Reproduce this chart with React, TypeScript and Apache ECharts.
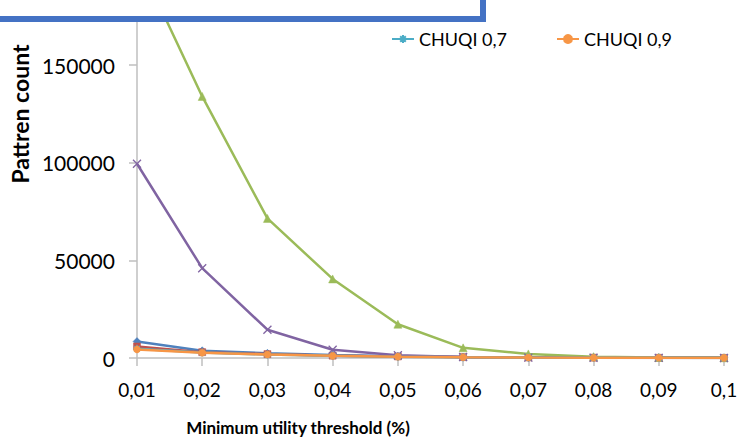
import React, { useEffect, useRef } from "react";
import * as echarts from "echarts";

const categories = ["0,01", "0,02", "0,03", "0,04", "0,05", "0,06", "0,07", "0,08", "0,09", "0,1"];
const seriesNames = ["HUSP", "CHUQI 0,1", "CHUQI 0,3", "CHUQI 0,5", "CHUQI 0,7", "CHUQI 0,9"];
const blueValues = [8400, 3700, 2400, 1500, 900, 500, 300, 200, 120, 80];
const redValues = [5900, 3000, 2000, 1200, 800, 450, 280, 180, 110, 70];
const greenValues = [205000, 134000, 71500, 40500, 17300, 5200, 2100, 700, 250, 100];
const purpleValues = [99500, 46000, 14500, 4200, 1400, 500, 200, 100, 60, 40];
const cyanValues = [4700, 2800, 1800, 1100, 700, 400, 250, 150, 100, 60];
const orangeValues = [4400, 2700, 1800, 1100, 700, 400, 250, 150, 100, 60];
const yTicks = { min: 0, max: 250000, interval: 50000, lastShown: 150000 };
const xTitle = "Minimum utility threshold (%)";
const yTitle = "Pattren count";

const colors = ["#4F81BD", "#C0504D", "#9BBB59", "#8064A2", "#4BACC6", "#F79646"];
const symbols = [
  "diamond",
  "rect",
  "triangle",
  "path://M0 0 L10 10 M10 0 L0 10",
  "path://M5 0 L5 10 M0 5 L10 5 M1.5 1.5 L8.5 8.5 M8.5 1.5 L1.5 8.5",
  "circle",
];
const symbolSizes = [8, 7, 8, 8, 8, 7];
const values = [blueValues, redValues, greenValues, purpleValues, cyanValues, orangeValues];

const FONT = "Lato, 'Open Sans', sans-serif";
// the chart is taller than the page and shifted up, so its upper part is out of view
const SHIFT = 130;

export default function App() {
  const ref = useRef<HTMLDivElement>(null);
  useEffect(() => {
    document.body.style.margin = "0";
    if (!ref.current) return;
    const chart = echarts.init(ref.current, undefined, { renderer: "svg" });
    chart.setOption({
      animation: false,
      backgroundColor: "#ffffff",
      textStyle: { fontFamily: FONT },
      grid: { left: 136, right: 26, top: 0, bottom: 88, containLabel: false },
      legend: [
        {
          data: ["CHUQI 0,7"],
          left: 386,
          top: SHIFT + 25,
          itemWidth: 22,
          itemHeight: 10,
          textStyle: { fontSize: 18, color: "#000", fontFamily: FONT },
        },
        {
          data: ["CHUQI 0,9"],
          left: 551,
          top: SHIFT + 25,
          itemWidth: 22,
          itemHeight: 10,
          textStyle: { fontSize: 18, color: "#000", fontFamily: FONT },
        },
      ],
      xAxis: {
        type: "category",
        data: categories,
        boundaryGap: false,
        axisLine: { lineStyle: { color: "#BFBFBF", width: 1.5 } },
        axisTick: { alignWithLabel: true, length: 8, lineStyle: { color: "#BFBFBF", width: 1.5 } },
        axisLabel: { fontSize: 19, color: "#000", margin: 22, fontFamily: FONT },
        splitLine: { show: false },
      },
      yAxis: {
        type: "value",
        min: yTicks.min,
        max: yTicks.max,
        interval: yTicks.interval,
        name: yTitle,
        nameLocation: "middle",
        nameGap: 104,
        nameTextStyle: { fontSize: 23, fontWeight: "bold", color: "#000", fontFamily: FONT },
        axisLine: { show: true, lineStyle: { color: "#BFBFBF", width: 1.5 } },
        axisTick: { show: true, length: 8, lineStyle: { color: "#BFBFBF", width: 1.5 } },
        axisLabel: {
          fontSize: 21,
          color: "#000",
          margin: 22,
          fontFamily: FONT,
          formatter: (v: number) => (v <= yTicks.lastShown ? String(v) : ""),
        },
        splitLine: { show: false },
      },
      series: values.map((v, i) => ({
        name: seriesNames[i],
        type: "line",
        data: v,
        symbol: symbols[i],
        symbolSize: symbolSizes[i],
        showAllSymbol: true,
        lineStyle: { color: colors[i], width: 2.5 },
        itemStyle: { color: colors[i], borderColor: colors[i], borderWidth: i === 3 || i === 4 ? 1.3 : 0.5 },
        z: 2 + i,
      })),
      graphic: [
        {
          type: "rect",
          z: 100,
          shape: { x: -10, y: SHIFT - 10, width: 493, height: 29 },
          style: { fill: "#ffffff", stroke: "#4472C4", lineWidth: 6 },
        },
        {
          type: "text",
          z: 100,
          x: 298,
          y: SHIFT + 427,
          style: {
            text: xTitle,
            fontSize: 17,
            fontWeight: "bold",
            fontFamily: FONT,
            fill: "#000",
            align: "center",
            verticalAlign: "middle",
          },
        },
      ],
    });
    return () => chart.dispose();
  }, []);
  return (
    <div style={{ width: 750, height: 446, overflow: "hidden", position: "relative" }}>
      <div ref={ref} style={{ width: 750, height: 446 + SHIFT, position: "absolute", left: 0, top: -SHIFT }} />
    </div>
  );
}
